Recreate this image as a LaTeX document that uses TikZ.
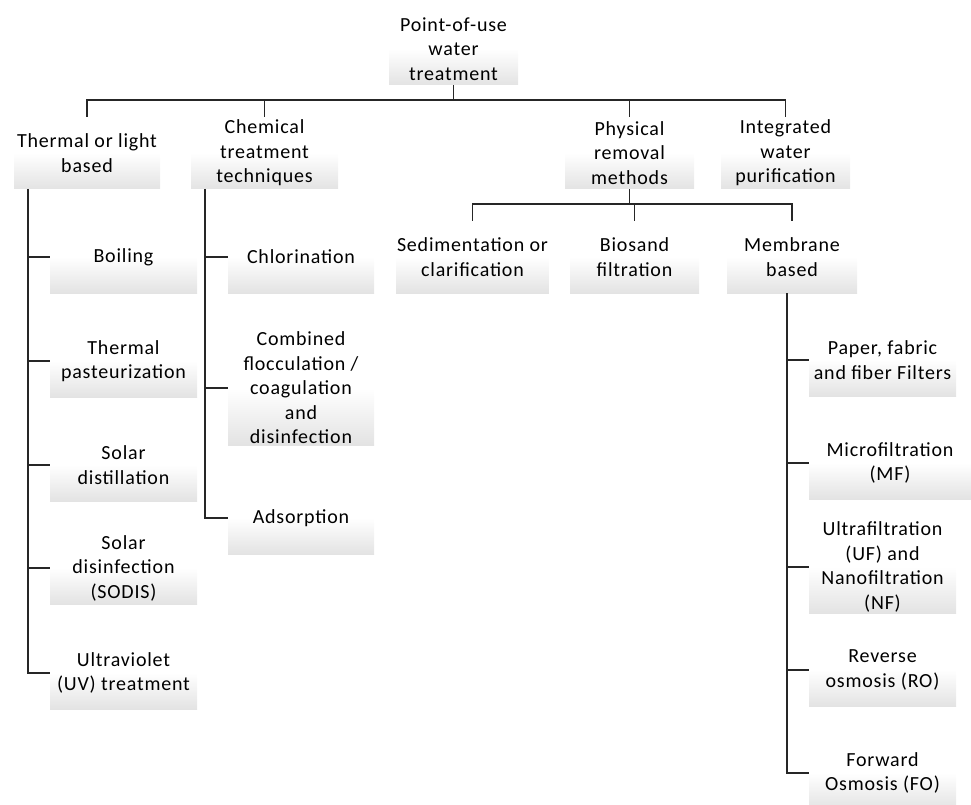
\documentclass[tikz,border=0pt]{standalone}
\usepackage{fontspec}
\setmainfont{Carlito}[LetterSpace=4]
\begin{document}
\begin{tikzpicture}[x=1pt,y=-1pt,
  box/.style={rectangle, inner sep=1pt, minimum height=72pt, align=center,
    font=\fontsize{20}{24.5}\selectfont, top color=white, bottom color=black!11, middle color=white},
  conn/.style={draw=black!85, line width=1.2pt}]
\useasboundingbox (0,0) rectangle (971,805);
% level 0
\node[box, minimum width=129pt] (root) at (453.5,49) {Point-of-use\\water\\treatment};
% level 1
\node[box, minimum width=146pt] (thermal) at (87,153) {Thermal or light\\based};
\node[box, minimum width=147pt] (chem) at (264.5,153) {Chemical\\treatment\\techniques};
\node[box, minimum width=129pt] (phys) at (629.5,153) {Physical\\removal\\methods};
\node[box, minimum width=129pt] (integ) at (785.5,153) {Integrated\\water\\purification};
% physical children
\node[box, minimum width=141pt] (sed) at (472.5,257) {Sedimentation or\\clarification};
\node[box, minimum width=129pt] (bio) at (634.5,257) {Biosand\\filtration};
\node[box, minimum width=130pt] (mem) at (792,257) {Membrane\\based};
% thermal children
\node[box, minimum width=147pt] (boil) at (123.5,257) {Boiling};
\node[box, minimum width=147pt] (tpast) at (123.5,361) {Thermal\\pasteurization};
\node[box, minimum width=147pt] (sdist) at (123.5,465) {Solar\\distillation};
\node[box, minimum width=147pt] (sodis) at (123.5,568) {Solar\\disinfection\\(SODIS)};
\node[box, minimum width=147pt] (uv) at (123.5,673) {Ultraviolet\\(UV) treatment};
% chemical children
\node[box, minimum width=146pt] (chlor) at (301,257) {Chlorination};
\node[box, minimum width=146pt] (comb) at (301,388) {Combined\\flocculation /\\coagulation\\and\\disinfection};
\node[box, minimum width=146pt] (adsorb) at (301,518) {Adsorption};
% membrane children
\node[box, minimum width=147pt] (paper) at (882.5,360) {Paper, fabric\\and fiber Filters};
\node[box, minimum width=162pt] (mf) at (890,463) {Microfiltration\\(MF)};
\node[box, minimum width=147pt] (ufnf) at (882.5,567) {Ultrafiltration\\(UF) and\\Nanofiltration\\(NF)};
\node[box, minimum width=147pt] (ro) at (882.5,670) {Reverse\\osmosis (RO)};
\node[box, minimum width=147pt] (fo) at (882.5,773) {Forward\\Osmosis (FO)};
% top bus
\coordinate (bus) at (453.5,100);
\draw[conn] (root.south) -- (bus);
\draw[conn] (thermal.north) -- (thermal.north |- bus) -- (integ.north |- bus) -- (integ.north);
\draw[conn] (chem.north) -- (chem.north |- bus);
\draw[conn] (phys.north) -- (phys.north |- bus);
% physical bus
\coordinate (pbus) at (629.5,204);
\draw[conn] (phys.south) -- (pbus);
\draw[conn] (sed.north) -- (sed.north |- pbus) -- (mem.north |- pbus) -- (mem.north);
\draw[conn] (bio.north) -- (bio.north |- pbus);
% thermal branch
\coordinate (tv) at (28,189);
\draw[conn] (tv) |- (uv.west);
\foreach \n in {boil,tpast,sdist,sodis} \draw[conn] (tv |- \n.west) -- (\n.west);
% chemical branch
\coordinate (cv) at (205,189);
\draw[conn] (cv) |- (adsorb.west);
\foreach \n in {chlor,comb} \draw[conn] (cv |- \n.west) -- (\n.west);
% membrane branch
\coordinate (mv) at (787,293);
\draw[conn] (mv) |- (fo.west);
\foreach \n in {paper,mf,ufnf,ro} \draw[conn] (mv |- \n.west) -- (\n.west);
\end{tikzpicture}
\end{document}
